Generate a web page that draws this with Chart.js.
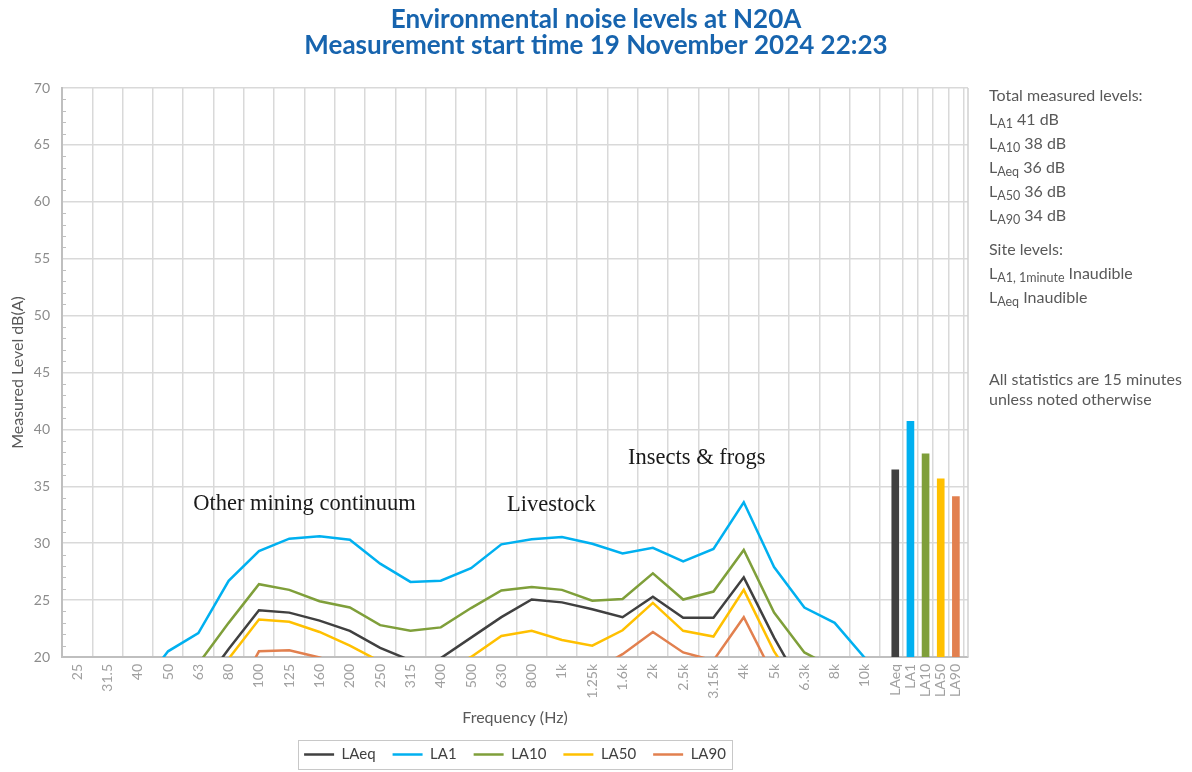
<!DOCTYPE html>
<html>
<head>
<meta charset="utf-8">
<script src="https://cdn.jsdelivr.net/npm/chart.js@4.4.1/dist/chart.umd.min.js"></script>
<style>
  html, body { margin: 0; padding: 0; background: #fff; }
  #wrap { position: relative; width: 1192px; height: 772px; }
  .notes { position: absolute; left: 989px; font-family: Lato, sans-serif; font-size: 16px; color: #595959; white-space: nowrap; }
  .notes div { height: 24px; line-height: 24px; }
  .notes sub { font-size: 12.5px; vertical-align: -3px; line-height: 0; }
</style>
</head>
<body>
<div id="wrap">
  <canvas id="myChart" width="1192" height="772"></canvas>
  <div class="notes" id="totalsBox" style="top:83px"></div>
  <div class="notes" id="siteBox" style="top:237px"></div>
  <div class="notes" id="footBox" style="top:369px"></div>
</div>
<script>
// frequency bands (1/3 octave) and overall statistics
const freqLabels = ['25', '31.5', '40', '50', '63', '80', '100', '125', '160', '200', '250', '315', '400', '500',
	'630', '800', '1k', '1.25k', '1.6k', '2k', '2.5k', '3.15k', '4k', '5k', '6.3k', '8k', '10k']
const totalLabels = ['LAeq', 'LA1', 'LA10', 'LA50', 'LA90']
const totalPos = [27, 27.5, 28, 28.5, 29]
const yTicks = [20, 25, 30, 35, 40, 45, 50, 55, 60, 65, 70]

const laeq = [15.0, 15.5, 16.0, 16.5, 17.1, 20.7, 24.1, 23.9, 23.2, 22.3, 20.8, 19.7, 19.9, 21.7,
	23.5, 25.05, 24.8, 24.2, 23.5, 25.3, 23.45, 23.45, 27.0, 21.7, 17.0, 15.0, 13.5]
const la1 = [17.0, 16.5, 17.05, 20.5, 22.1, 26.7, 29.3, 30.4, 30.6, 30.3, 28.2, 26.6, 26.7, 27.8,
	29.9, 30.35, 30.55, 29.95, 29.1, 29.6, 28.4, 29.5, 33.6, 27.9, 24.35, 23.0, 19.9]
const la10 = [16.0, 16.5, 17.0, 18.0, 19.4, 23.0, 26.4, 25.9, 24.9, 24.35, 22.8, 22.3, 22.6, 24.3,
	25.85, 26.15, 25.9, 24.95, 25.1, 27.35, 25.05, 25.75, 29.4, 23.9, 20.4, 19.0, 17.0]
const la50 = [13.0, 13.5, 14.0, 14.5, 16.0, 19.85, 23.3, 23.1, 22.2, 21.0, 19.6, 18.6, 18.8, 20.0,
	21.85, 22.3, 21.5, 21.0, 22.35, 24.75, 22.3, 21.8, 25.9, 20.5, 16.4, 14.5, 13.0]
const la90 = [10.0, 10.5, 11.0, 12.0, 13.5, 15.6, 20.5, 20.6, 19.95, 19.2, 18.5, 18.0, 17.8, 18.3,
	19.0, 19.3, 19.0, 18.7, 20.25, 22.2, 20.4, 19.7, 23.5, 18.25, 15.0, 13.0, 12.0]
const totals = [36.45, 40.7, 37.85, 35.65, 34.1]

const colors = ['#404040', '#00B0F0', '#7F9F3A', '#FFC000', '#E2804F']

// text shown on the right
const totalSubs = ['A1', 'A10', 'Aeq', 'A50', 'A90']
const totalDb = [41, 38, 36, 36, 34]
const siteSubs = ['A1, 1minute', 'Aeq']
const siteText = ['Inaudible', 'Inaudible']

const notes = [
	{ text: 'Other mining continuum', x: 7.5, y: 32.9 },
	{ text: 'Livestock', x: 15.65, y: 32.8 },
	{ text: 'Insects & frogs', x: 20.45, y: 36.95 },
]

function fillNotes() {
	let html = '<div>Total measured levels:</div>'
	for (let i = 0; i < totalSubs.length; i++) {
		html += '<div>L<sub>' + totalSubs[i] + '</sub> ' + totalDb[i] + ' dB</div>'
	}
	document.getElementById('totalsBox').innerHTML = html
	html = '<div>Site levels:</div>'
	for (let i = 0; i < siteSubs.length; i++) {
		html += '<div>L<sub>' + siteSubs[i] + '</sub> ' + siteText[i] + '</div>'
	}
	document.getElementById('siteBox').innerHTML = html
	document.getElementById('footBox').innerHTML =
		'<div style="height:20px;line-height:20px">All statistics are 15 minutes</div>' +
		'<div style="height:20px;line-height:20px">unless noted otherwise</div>'
}
fillNotes()

const allTickPos = freqLabels.map((l, i) => i).concat(totalPos)
const allTickLabels = freqLabels.concat(totalLabels)

function points(arr) {
	return arr.map((v, i) => ({ x: i, y: v }))
}

const seriesArr = [laeq, la1, la10, la50, la90]
const lineSets = seriesArr.map((arr, n) => ({
	type: 'line',
	label: totalLabels[n],
	data: points(arr),
	borderColor: colors[n],
	backgroundColor: colors[n],
	borderWidth: 2.5,
	pointRadius: 0,
	tension: 0,
	fill: false,
	clip: 0,
}))

const barSet = {
	type: 'bar',
	label: 'totals',
	data: totals.map((v, i) => ({ x: totalPos[i], y: v })),
	backgroundColor: colors,
	barThickness: 7,
}

const extras = {
	id: 'extras',
	beforeDatasetsDraw(chart) {
		const ctx = chart.ctx
		const a = chart.chartArea
		ctx.save()
		ctx.strokeStyle = '#D0D0D0'
		ctx.lineWidth = 1.5
		ctx.beginPath()
		ctx.moveTo(a.right, a.top)
		ctx.lineTo(a.right, a.bottom)
		ctx.stroke()
		// minor ticks on the value axis
		const y = chart.scales.y
		ctx.strokeStyle = '#BFBFBF'
		ctx.lineWidth = 1
		for (let v = y.min + 1; v < y.max; v++) {
			if (v % 5 === 0) continue
			const py = Math.round(y.getPixelForValue(v)) + 0.5
			ctx.beginPath()
			ctx.moveTo(a.left, py)
			ctx.lineTo(a.left + 4, py)
			ctx.stroke()
		}
		ctx.restore()
	},
	afterDraw(chart) {
		const ctx = chart.ctx
		ctx.save()
		ctx.font = '22.5px "Liberation Serif", serif'
		ctx.fillStyle = '#1a1a1a'
		ctx.textAlign = 'center'
		ctx.textBaseline = 'alphabetic'
		notes.forEach((n) => {
			ctx.fillText(n.text, chart.scales.x.getPixelForValue(n.x), chart.scales.y.getPixelForValue(n.y))
		})
		// legend frame
		const boxes = chart.legend.legendHitBoxes
		if (boxes && boxes.length) {
			let l = Infinity, r = -Infinity, t = Infinity, b = -Infinity
			boxes.forEach((h) => {
				l = Math.min(l, h.left); r = Math.max(r, h.left + h.width)
				t = Math.min(t, h.top); b = Math.max(b, h.top + h.height)
			})
			ctx.strokeStyle = '#C8C8C8'
			ctx.lineWidth = 1
			ctx.strokeRect(Math.round(l - 6) + 0.5, Math.round(t - 7) + 0.5, Math.round(r - l + 12), Math.round(b - t + 14))
		}
		ctx.restore()
	},
}

Chart.defaults.font.family = 'Lato, sans-serif'
const chart = new Chart(document.getElementById('myChart').getContext('2d'), {
	type: 'line',
	data: { datasets: lineSets.concat([barSet]) },
	plugins: [extras],
	options: {
		animation: false,
		responsive: false,
		layout: { padding: { left: 0, right: 0, top: 0, bottom: 0 } },
		plugins: {
			title: {
				display: true,
				text: ['Environmental noise levels at N20A', 'Measurement start time 19 November 2024 22:23'],
				color: '#1764AE',
				font: { size: 26, weight: 'bold', lineHeight: 1.0 },
				padding: { top: 7, bottom: 29 },
			},
			legend: {
				position: 'bottom',
				fullSize: false,
				labels: {
					filter: (item, data) => data.datasets[item.datasetIndex].type === 'line',
					usePointStyle: true,
					pointStyle: 'line',
					pointStyleWidth: 30,
					padding: 17,
					color: '#404040',
					font: { size: 15 },
				},
			},
			tooltip: { enabled: false },
		},
		scales: {
			x: {
				type: 'linear',
				min: -0.5,
				max: 29.4,
				offset: false,
				afterBuildTicks: (s) => { s.ticks = allTickPos.map((v) => ({ value: v })) },
				afterFit: (s) => { s.height = 73 },
				ticks: {
					autoSkip: false,
					minRotation: 90,
					maxRotation: 90,
					padding: 7,
					color: '#A0A0A0',
					font: { size: 14 },
					callback: (v, i) => allTickLabels[i],
				},
				grid: { color: '#D9D9D9', lineWidth: 1.5, drawTicks: false },
				border: { color: '#BFBFBF', width: 2 },
				title: {
					display: true,
					text: 'Frequency (Hz)',
					color: '#595959',
					font: { size: 16 },
					padding: { top: 4, bottom: 3 },
				},
			},
			y: {
				min: 20,
				max: 70,
				afterBuildTicks: (s) => { s.ticks = yTicks.map((v) => ({ value: v })) },
				afterFit: (s) => { s.width = 62 },
				ticks: { color: '#8C8C8C', font: { size: 14 }, padding: 12 },
				grid: { color: '#D9D9D9', lineWidth: 1.5, drawTicks: false },
				border: { color: '#BFBFBF', width: 2 },
				title: {
					display: true,
					text: 'Measured Level dB(A)',
					color: '#595959',
					font: { size: 16 },
					padding: { top: 8, bottom: 0 },
				},
			},
			y2: {
				position: 'right',
				display: true,
				ticks: { display: false },
				grid: { display: false },
				border: { display: false },
				afterFit: (s) => { s.width = 224 },
			},
		},
	},
})
</script>
</body>
</html>
